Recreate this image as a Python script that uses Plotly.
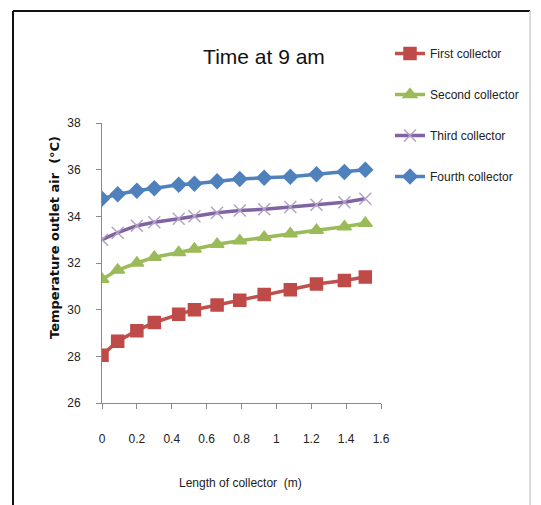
import plotly.graph_objects as go

# === Data ===
length_m = [0, 0.09, 0.2, 0.3, 0.44, 0.53, 0.66, 0.79, 0.93, 1.08, 1.23, 1.39, 1.51]

first_collector = [28.05, 28.65, 29.1, 29.45, 29.8, 30.0, 30.2, 30.4, 30.65, 30.85, 31.1, 31.25, 31.4]
second_collector = [31.3, 31.7, 32.0, 32.25, 32.45, 32.6, 32.8, 32.95, 33.1, 33.25, 33.4, 33.55, 33.7]
third_collector = [33.0, 33.3, 33.6, 33.75, 33.9, 34.0, 34.15, 34.25, 34.3, 34.4, 34.5, 34.6, 34.75]
fourth_collector = [34.75, 34.95, 35.1, 35.2, 35.35, 35.4, 35.5, 35.6, 35.65, 35.7, 35.8, 35.9, 36.0]

x_ticks = [0, 0.2, 0.4, 0.6, 0.8, 1, 1.2, 1.4, 1.6]
x_tick_text = ['0', '0.2', '0.4', '0.6', '0.8', '1', '1.2', '1.4', '1.6']
y_ticks = [26, 28, 30, 32, 34, 36, 38]

# the page body adds an 8px margin, so the figure is drawn 8px in from the window edge
OFF = 8
W, H = 541 - OFF, 505 - OFF
L, T = 102 - OFF, 123 - OFF
pw, ph = 279, 280
R, B = W - L - pw, H - T - ph


def px_x(p):
    # screen pixel -> paper x
    return (p - OFF - L) / pw


def px_y(p):
    # screen pixel -> paper y
    return (H - B - (p - OFF)) / ph


font_main = "Liberation Sans Narrow, Arial Narrow, Liberation Sans, sans-serif"

series = [
    ('First collector', first_collector, '#C0504D', 'square', 12, '#BE4B48'),
    ('Second collector', second_collector, '#9BBB59', 'triangle-up', 12, '#9BBB59'),
    ('Third collector', third_collector, '#8064A2', 'x-thin', 12, '#B3A2C7'),
    ('Fourth collector', fourth_collector, '#4F81BD', 'diamond', 11, '#4F81BD'),
]

fig = go.Figure()
for i, (name, vals, col, sym, size, mcol) in enumerate(series):
    fig.add_trace(go.Scatter(
        x=length_m, y=vals, name=name, mode='lines+markers',
        line=dict(color=col, width=3.5),
        marker=dict(symbol=sym, size=size, color=mcol,
                    line=dict(color=mcol, width=1.5)),
        legendgroup=f'g{i}',
    ))

fig.update_layout(
    width=W, height=H,
    margin=dict(l=L, r=R, t=T, b=B),
    paper_bgcolor='white', plot_bgcolor='white',
    font=dict(family=font_main, size=12, color='#222'),
    showlegend=True,
    legend=dict(x=px_x(390), y=px_y(39), xanchor='left', yanchor='top',
                font=dict(size=12, family=font_main, color='#222'),
                tracegroupgap=22, itemwidth=30, bgcolor='rgba(0,0,0,0)'),
    title=dict(text='Time at 9 am', x=px_x(264), xref='paper', xanchor='center',
               y=1 - (57 - OFF) / H, yanchor='middle',
               font=dict(size=21, family=font_main, color='#111')),
)

fig.update_xaxes(range=[0, 1.6], tickvals=x_ticks, ticktext=x_tick_text,
                 showgrid=False, zeroline=False, showline=True,
                 linecolor='#8a8a8a', linewidth=1, ticks='outside',
                 ticklen=5, tickcolor='#8a8a8a', ticklabelstandoff=20,
                 tickfont=dict(size=12, family=font_main, color='#222'))
fig.update_yaxes(range=[26, 38], tickvals=y_ticks,
                 showgrid=False, zeroline=False, showline=True,
                 linecolor='#8a8a8a', linewidth=1, ticks='outside',
                 ticklen=5, tickcolor='#8a8a8a', ticklabelstandoff=13,
                 tickfont=dict(size=12, family=font_main, color='#222'))

# axis titles
fig.add_annotation(text='Temperature outlet air  (°C)', textangle=-90,
                   xref='paper', yref='paper', x=px_x(54), y=px_y(237),
                   showarrow=False, xanchor='center', yanchor='middle',
                   font=dict(size=13, family='DejaVu Sans', color='#111', weight='bold'))
fig.add_annotation(text='Length of collector  (m)',
                   xref='paper', yref='paper', x=px_x(240), y=px_y(483),
                   showarrow=False, xanchor='center', yanchor='middle',
                   font=dict(size=12, family=font_main, color='#222'))

# outer frame
fig.add_shape(type='line', xref='paper', yref='paper',
              x0=px_x(13), x1=px_x(530), y0=px_y(11), y1=px_y(11),
              line=dict(color='#111', width=2))
fig.add_shape(type='line', xref='paper', yref='paper',
              x0=px_x(13), x1=px_x(13), y0=px_y(11), y1=px_y(505),
              line=dict(color='#111', width=2))
fig.add_shape(type='line', xref='paper', yref='paper',
              x0=px_x(530), x1=px_x(530), y0=px_y(11), y1=px_y(505),
              line=dict(color='#cfcfcf', width=1.5))

fig.write_html("out.html")
